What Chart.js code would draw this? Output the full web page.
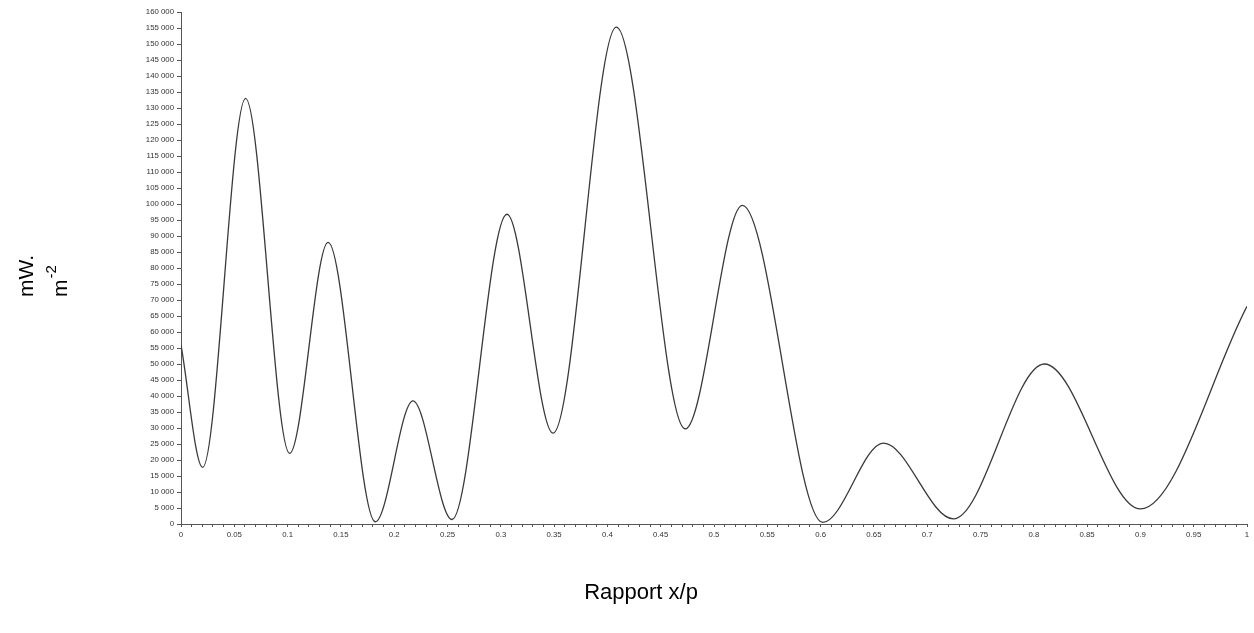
<!DOCTYPE html>
<html>
<head>
<meta charset="utf-8">
<script src="https://cdn.jsdelivr.net/npm/chart.js@4.4.0/dist/chart.umd.min.js"></script>
<style>
    html, body { margin: 0; padding: 0; background: #fff; }
    #wrap { position: relative; width: 1254px; height: 633px; }
</style>
</head>
<body>
<div id="wrap"><canvas id="chart"></canvas></div>
<script>
// Values (peaks and troughs of the curve)
const ratioX = [0, 0.0203, 0.0606, 0.1019, 0.138, 0.1823, 0.2176, 0.2542, 0.3058, 0.349,
                0.4084, 0.473, 0.5266, 0.602, 0.659, 0.7245, 0.81, 0.9, 1];
const powerY = [56000, 17700, 133000, 22100, 88000, 700, 38500, 1400, 96800, 28400,
                155300, 29700, 99600, 500, 25300, 1600, 50000, 4700, 68000];

const X_TITLE = 'Rapport x/p';
const Y_TITLE = ['mW.', 'm', '-2'];

const FONT = '"Liberation Sans", Arial, sans-serif';

// space as thousands separator, like "160 000"
function fmtThousands(v) {
    return Math.round(v).toString().replace(/\B(?=(\d{3})+(?!\d))/g, ' ');
}

const axisTitles = {
    id: 'axisTitles',
    afterDraw(chart) {
        const ctx = chart.ctx;
        ctx.save();
        ctx.fillStyle = '#000';

        // x title
        ctx.font = '22px ' + FONT;
        ctx.textAlign = 'center';
        ctx.textBaseline = 'middle';
        ctx.fillText(X_TITLE, 641, 593);

        // y title, two rotated lines with a superscript
        ctx.textAlign = 'left';
        ctx.textBaseline = 'alphabetic';
        ctx.save();
        ctx.translate(33, 297);
        ctx.rotate(-Math.PI / 2);
        ctx.font = '21px ' + FONT;
        ctx.fillText(Y_TITLE[0], 0, 0);
        ctx.restore();

        ctx.save();
        ctx.translate(67, 297);
        ctx.rotate(-Math.PI / 2);
        ctx.font = '21px ' + FONT;
        ctx.fillText(Y_TITLE[1], 0, 0);
        const mw = ctx.measureText(Y_TITLE[1]).width;
        ctx.font = '15px ' + FONT;
        ctx.fillText(Y_TITLE[2], mw + 1, -11);
        ctx.restore();

        ctx.restore();
    }
};

const points = ratioX.map((x, i) => ({ x: x, y: powerY[i] }));

new Chart(document.getElementById('chart'), {
    type: 'line',
    data: {
        datasets: [{
            data: points,
            borderColor: '#3a3a3a',
            borderWidth: 1.3,
            pointRadius: 0,
            fill: false,
            cubicInterpolationMode: 'monotone'
        }]
    },
    options: {
        responsive: true,
        maintainAspectRatio: false,
        animation: false,
        layout: { padding: { left: 0, right: 7, top: 12, bottom: 0 } },
        plugins: {
            legend: { display: false },
            tooltip: { enabled: false }
        },
        scales: {
            x: {
                type: 'linear',
                min: 0,
                max: 1,
                afterFit(scale) { scale.height = 109; },
                border: { display: true, color: '#555', width: 1 },
                grid: { drawOnChartArea: false, drawTicks: true, tickLength: 3, color: '#555' },
                ticks: {
                    stepSize: 0.01,
                    autoSkip: false,
                    maxRotation: 0,
                    padding: 3,
                    color: '#333',
                    font: { family: FONT, size: 7.8 },
                    callback(value) {
                        const h = Math.round(value * 100);
                        if (h % 5 !== 0) return '';
                        return String(h / 100);
                    }
                }
            },
            y: {
                min: 0,
                max: 160000,
                afterFit(scale) { scale.width = 181; },
                border: { display: true, color: '#555', width: 1 },
                grid: { drawOnChartArea: false, drawTicks: true, tickLength: 4, color: '#555' },
                ticks: {
                    stepSize: 5000,
                    autoSkip: false,
                    padding: 3,
                    color: '#333',
                    font: { family: FONT, size: 7.8 },
                    callback(value) { return fmtThousands(value); }
                }
            }
        }
    },
    plugins: [axisTitles]
});
</script>
</body>
</html>
